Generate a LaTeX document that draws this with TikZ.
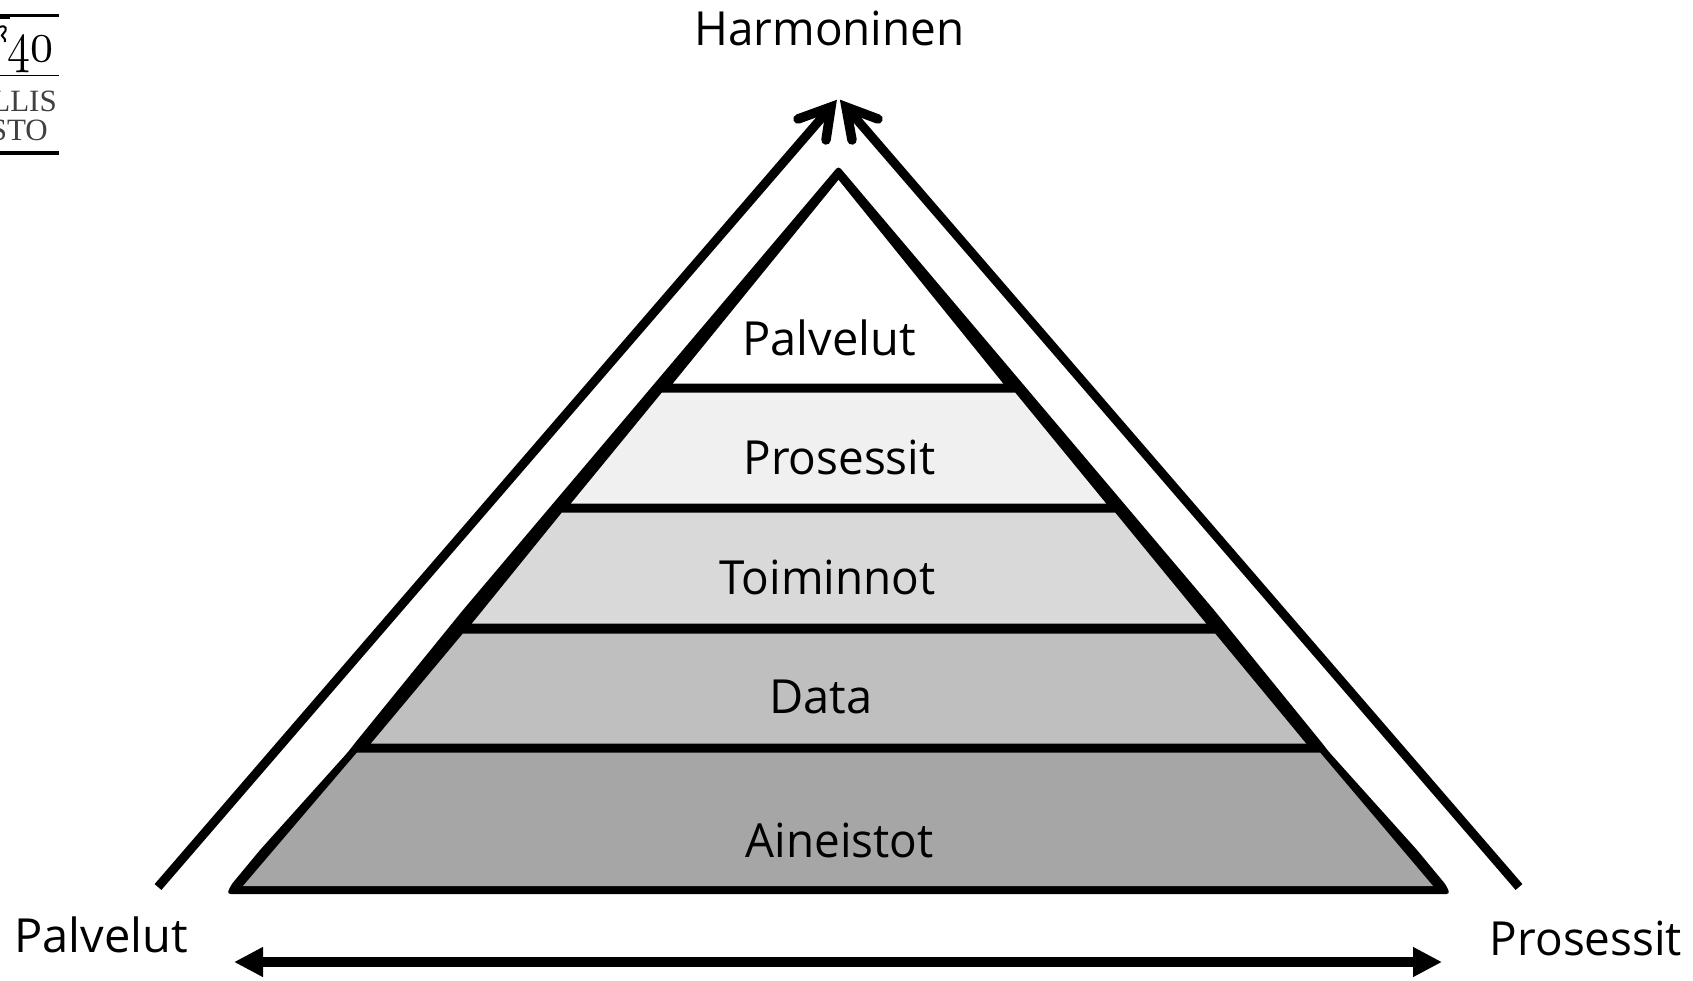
\documentclass[tikz,border=0pt]{standalone}
\usepackage{fontspec}
\usetikzlibrary{arrows.meta}
\setmainfont{Open Sans}
\newfontfamily\narrowfont{Open Sans}[FakeStretch=0.975]
\newfontfamily\logofont{Liberation Serif}
\tikzset{
  lbl/.style={inner sep=0pt,anchor=base,font=\fontsize{47}{50}\selectfont,text=black},
  nlbl/.style={inner sep=0pt,anchor=base,font=\narrowfont\fontsize{47}{50}\selectfont,text=black},
  logotxt/.style={inner sep=0pt,anchor=base east,font=\logofont\fontsize{31}{33}\selectfont,text=black!75},
  shaft/.style={line width=9pt,line cap=butt,draw=black},
  barb/.style={line width=9.5pt,line cap=round,line join=miter,draw=black},
  logorule/.style={draw=black},
  wide/.style={line width=9.5pt,draw=black,{Triangle[length=29pt,width=28pt]}-{Triangle[length=29pt,width=28pt]}},
}
\begin{document}
\begin{tikzpicture}[x=1pt,y=-1pt]
\useasboundingbox (0,0) rectangle (1693,980);
% pyramid body
\fill[black,rounded corners=3.5pt] (838.5,166) -- (463,610) -- (355,743) -- (348,752) -- (260,850) -- (231,885) -- (227,894) -- (1450,894) -- (1446,885) -- (1417,850) -- (1329,752) -- (1322,743) -- (1214,610) -- cycle;
\fill[white] (838.5,180) -- (1003,383.5) -- (673,383.5) -- cycle;
\fill[black!6] (662,392.5) -- (1015,392.5) -- (1106,503.5) -- (571,503.5) -- cycle;
\fill[black!15] (562,512.5) -- (1115,512.5) -- (1206,623.5) -- (472,623.5) -- cycle;
\fill[black!25] (463,633.5) -- (1215,633.5) -- (1306,743.5) -- (371,743.5) -- cycle;
\fill[black!35] (357,752.5) -- (1320,752.5) -- (1433,886) -- (243,886) -- cycle;
% layer labels
\node[lbl] (l1) at (829,355) {Palvelut};
\node[nlbl] (l2) at (839.5,474) {Prosessit};
\node[nlbl] (l3) at (827.6,594) {Toiminnot};
\node[lbl] (l4) at (820.6,713) {Data};
\node[nlbl] (l5) at (839.5,857) {Aineistot};
\node[nlbl] (top) at (829.5,45) {Harmoninen};
\node[lbl] (left) at (101,952) {Palvelut};
\node[nlbl] (right) at (1586,955) {Prosessit};
% side arrows
\coordinate (la) at (158,887);
\coordinate (lv) at (831,107);
\coordinate (lb1) at (798,119);
\coordinate (lb2) at (826,140);
\coordinate (ra) at (1519,887);
\coordinate (rv) at (846,107);
\coordinate (rb1) at (878,119);
\coordinate (rb2) at (852,140);
\draw[shaft] (la) -- (lv);
\draw[shaft] (ra) -- (rv);
\draw[barb] (lb1) -- (lv) -- (lb2);
\draw[barb] (rb1) -- (rv) -- (rb2);
% bottom arrow
\coordinate (bl) at (234,962);
\coordinate (br) at (1442,962);
\draw[wide] (bl) -- (br);
% logo fragment
\begin{scope}
\clip (0,0) rectangle (60,160);
\fill[black] (0,14) rectangle (59,16.5);
\fill[black] (0,16.5) rectangle (10,19);
\draw[logorule,line width=1pt] (0,75) -- (59,75);
\fill[black] (0,150.5) rectangle (59,155);
\node[inner sep=0pt,anchor=base] (n40) at (31,61) {\scalebox{4.6}[5.8]{$\mathnormal{40}$}};
\node[logotxt] (llis) at (57,111) {LLIS};
\node[logotxt] (sto) at (48,140) {STO};
\draw[black,line width=2pt] (0,27) .. controls (6,24) and (8,30) .. (3,34) .. controls (-1,36) and (7,38) .. (5,42);
\end{scope}
\end{tikzpicture}
\end{document}
